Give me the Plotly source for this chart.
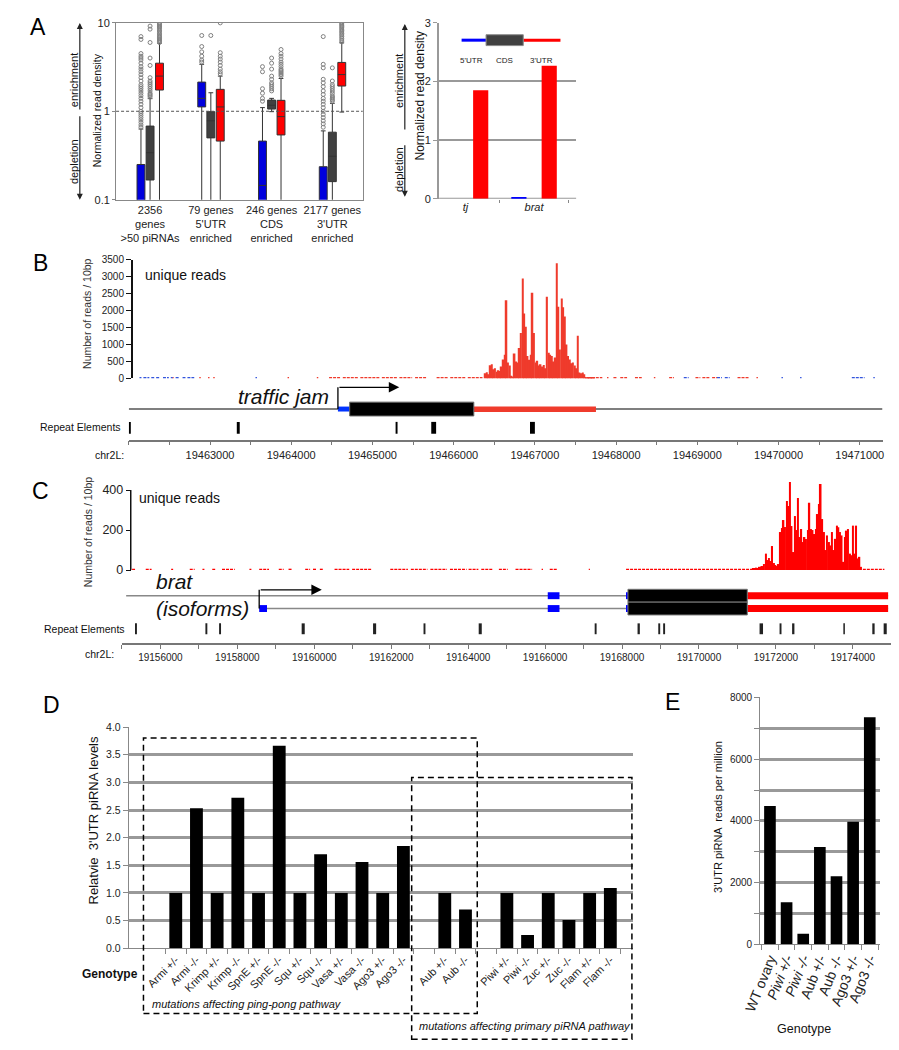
import plotly.graph_objects as go

W, H = 899, 1050
def X(px): return px / W
def Y(py): return 1 - py / H
FONT = "Liberation Sans, Arial, Helvetica, sans-serif"

# ================= DATA =================
# Panel A (left): box statistics (normalized read density, log scale)
a_groups = ["2356<br>genes<br>>50 piRNAs", "79 genes<br>5'UTR<br>enriched",
            "246 genes<br>CDS<br>enriched", "2177 genes<br>3'UTR<br>enriched"]
a_regions = ["5'UTR", "CDS", "3'UTR"]
a_q1 = {"5'UTR": [0.04, 1.12, 0.05, 0.04], "CDS": [0.167, 0.50, 1.06, 0.16], "3'UTR": [1.74, 0.46, 0.54, 1.93]}
a_median = {"5'UTR": [0.07, 1.40, 0.145, 0.07], "CDS": [0.34, 0.78, 1.17, 0.31], "3'UTR": [2.5, 1.12, 0.87, 2.6]}
a_q3 = {"5'UTR": [0.25, 2.14, 0.46, 0.236], "CDS": [0.68, 0.99, 1.34, 0.58], "3'UTR": [3.5, 1.77, 1.33, 3.57]}
a_lower = {"5'UTR": [0.01, 0.01, 0.01, 0.01], "CDS": [0.01, 0.01, 0.99, 0.01], "3'UTR": [0.01, 0.01, 0.01, 0.98]}
a_upper = {"5'UTR": [0.63, 3.4, 1.1, 0.6], "CDS": [1.39, 1.62, 1.4, 1.23], "3'UTR": [5.9, 2.5, 2.35, 5.95]}
a_outliers = {
    "5'UTR": [[7.0, 6.5, 4.5, 4.2, 4.0, 3.8, 3.5, 3.2, 3.0, 2.8, 2.6, 2.4, 2.2, 2.0, 1.9, 1.8, 1.7, 1.6, 1.5, 1.4,
               1.3, 1.2, 1.1, 1.0, 0.95, 0.9, 0.85, 0.8, 0.75, 0.7, 0.66],
              [7.2, 5.4, 4.7, 4.2, 3.8, 3.6],
              [3.2, 2.8, 1.8, 1.6, 1.4, 1.3],
              [7.0, 3.4, 3.1, 2.3, 2.1, 1.9, 1.7, 1.55, 1.4, 1.3, 1.2, 1.1, 1.0, 0.92, 0.85, 0.78, 0.72, 0.66]],
    "CDS": [[9.2, 8.5, 6.0, 4.0, 3.3, 2.4, 2.2, 2.1, 2.0, 1.9, 1.8, 1.7, 1.6, 1.55, 1.5, 1.45],
            [7.2],
            [4.0, 3.5, 3.0, 2.5, 2.3, 2.1, 2.0, 1.9, 1.8, 1.7],
            [3.1, 2.2, 2.0, 1.9, 1.8, 1.7, 1.6, 1.5, 1.45, 1.4, 1.35, 1.3]],
    "3'UTR": [[10.0, 9.8, 9.5, 9.2, 9.0, 8.7, 8.4, 8.1, 7.8, 7.5, 7.2, 7.0, 6.8, 6.6, 6.4, 6.2, 6.0],
              [10.0, 4.6, 4.2, 3.9, 3.6, 3.3, 3.0, 2.8, 2.65],
              [5.0, 4.5, 4.2, 3.9, 3.6, 3.4, 3.2, 3.0, 2.9, 2.8, 2.7, 2.6, 2.5],
              [10.0, 9.7, 9.4, 9.1, 8.8, 8.5, 8.2, 7.9, 7.6, 7.3, 7.0, 6.7, 6.4, 6.1]],
}

# Panel A (right): bar values
ar_genes = ["tj", "brat"]
ar_5utr = [0.0, 0.02]
ar_cds = [0.0, 0.0]
ar_3utr = [1.85, 2.27]

# Panel B: traffic jam locus (chr2L)
b_sig_start, b_sig_step = 19466390, 20
b_sig_vals = [150, 180, 120, 390, 420, 270, 300, 200, 240, 220, 350, 560, 700, 2310, 470, 380, 80, 60,
              740, 500, 470, 900, 1340, 2950, 1920, 1530, 660, 550, 700, 2530, 1340, 470, 520, 380, 420,
              350, 400, 300, 2410, 760, 700, 660, 500, 620, 3400, 2120, 855, 2360, 2100, 1830, 1000, 660,
              560, 450, 470, 380, 300, 1260, 175, 150, 175, 125, 40, 30, 30, 30, 30, 30]
b_noise_red = [(19462535, 19462553), (19462868, 19462886), (19462976, 19462994), (19463040, 19463058),
               (19463955, 19463973), (19464315, 19464333), (19464466, 19464610), (19464635, 19464827),
               (19464851, 19465092), (19465116, 19465308), (19465332, 19465489), (19465525, 19465669),
               (19465790, 19465934), (19465958, 19466150), (19466174, 19466355), (19467750, 19467830),
               (19467888, 19467906), (19467967, 19468015), (19468051, 19468135), (19468232, 19468316),
               (19468465, 19468483), (19468653, 19468713), (19468977, 19469037), (19469062, 19469158),
               (19469182, 19469242), (19469495, 19469639), (19469728, 19469746)]
b_noise_blue = [(19462132, 19462156), (19462180, 19462253), (19462277, 19462313), (19462337, 19462385),
                (19462421, 19462493), (19462517, 19462541), (19462577, 19462614), (19462662, 19462698),
                (19462722, 19462806), (19463560, 19463578), (19468833, 19468893), (19469242, 19469302),
                (19469338, 19469398), (19470036, 19470054), (19470265, 19470283), (19470902, 19471059),
                (19471167, 19471185)]
b_gene_5utr = (19464575, 19464720)
b_gene_cds = (19464720, 19466248)
b_gene_3utr = (19466248, 19467752)
b_tss, b_arrow_end = 19464575, 19465330
b_repeats = [(19462000, 19462025), (19463330, 19463366), (19465285, 19465309), (19465724, 19465784),
             (19466940, 19467000)]
b_range = (19462000, 19471280)

# Panel C: brat locus (chr2L)
c_sig_start, c_sig_step = 19171400, 42
c_sig_vals = [10, 10, 12, 10, 16, 18, 20, 30, 82, 50, 60, 45, 120, 35, 25, 20, 30, 190, 210, 250, 215, 345,
              320, 440, 220, 90, 270, 200, 360, 165, 205, 140, 165, 155, 200, 337, 205, 200, 180, 205, 280,
              330, 430, 255, 190, 100, 173, 140, 123, 190, 100, 156, 222, 214, 190, 173, 41, 165, 197, 205,
              82, 74, 222, 82, 222, 58, 66, 16]
c_noise = [(19155263, 19155364), (19155619, 19155771), (19156280, 19156331), (19156763, 19156890),
           (19157093, 19157144), (19157348, 19157424), (19157602, 19157933), (19158314, 19158365),
           (19158568, 19158823), (19159077, 19159204), (19159331, 19159433), (19159764, 19159891),
           (19159967, 19160069), (19160145, 19160221), (19160527, 19160908), (19160984, 19161493),
           (19161976, 19162434), (19162510, 19162942), (19163018, 19163451), (19163527, 19163960),
           (19164011, 19164265), (19164341, 19164647), (19164799, 19165028), (19165231, 19165663),
           (19165910, 19165945), (19166121, 19166325), (19167135, 19167165), (19168105, 19171411),
           (19174260, 19174820)]
c_iso1_start, c_iso2_start, c_gene_end = 19155110, 19158568, 19174917
c_iso1_5utr = [(19166069, 19166374), (19168103, 19168154)]
c_iso2_5utr = [(19158568, 19158771), (19166069, 19166374), (19168103, 19168154)]
c_cds = (19168154, 19171256)
c_3utr = (19171256, 19174917)
c_tss, c_arrow_end = 19158568, 19160195
c_repeats = [(19155340, 19155390), (19157170, 19157220), (19157526, 19157576), (19159672, 19159752),
             (19161528, 19161608), (19162840, 19162890), (19164274, 19164354), (19167289, 19167339),
             (19168403, 19168463), (19168942, 19168992), (19169069, 19169119), (19171575, 19171665),
             (19172095, 19172145), (19172421, 19172481), (19173753, 19173793), (19174506, 19174566),
             (19174801, 19174881)]
c_range = (19155000, 19175000)

# Panel D
d_pingpong = ["Armi +/-", "Armi -/-", "Krimp +/-", "Krimp -/-", "SpnE +/-", "SpnE -/-",
              "Squ +/-", "Squ -/-", "Vasa +/-", "Vasa -/-", "Ago3 +/-", "Ago3 -/-"]
d_pingpong_vals = [1.0, 2.53, 1.0, 2.72, 1.0, 3.66, 1.0, 1.70, 1.0, 1.56, 1.0, 1.85]
d_aub = ["Aub +/-", "Aub -/-"]
d_aub_vals = [1.0, 0.70]
d_primary = ["Piwi +/-", "Piwi -/-", "Zuc +/-", "Zuc -/-", "Flam +/-", "Flam -/-"]
d_primary_vals = [1.0, 0.24, 1.0, 0.51, 1.0, 1.09]

# Panel E
e_labels = ["WT ovary", "Piwi +/-", "Piwi -/-", "Aub +/-", "Aub -/-", "Ago3 +/-", "Ago3 -/-"]
e_vals = [4480, 1365, 340, 3150, 2210, 3970, 7360]

# ================= FIGURE =================
fig = go.Figure()
shapes, annos = [], []

# ---- A left: boxes ----
a_colors = {"5'UTR": "#0000dd", "CDS": "#404040", "3'UTR": "#ff0000"}
a_offsets = {"5'UTR": -0.15, "CDS": 0.0, "3'UTR": 0.155}
for r in a_regions:
    xs = [i + a_offsets[r] for i in range(len(a_groups))]
    ox, oy = [], []
    for i in range(len(a_groups)):
        for v in a_outliers[r][i]:
            ox.append(xs[i]); oy.append(v)
    fig.add_trace(go.Scatter(x=ox, y=oy, mode="markers", xaxis="x", yaxis="y",
                             marker=dict(symbol="circle-open", size=4, color="#808080", line=dict(width=1)),
                             showlegend=False, hoverinfo="skip"))
    fig.add_trace(go.Box(x=xs, q1=a_q1[r], median=a_median[r], q3=a_q3[r],
                         lowerfence=a_lower[r], upperfence=a_upper[r], width=0.13,
                         fillcolor=a_colors[r], line=dict(color="#333333", width=1),
                         whiskerwidth=0.6, boxpoints=False, xaxis="x", yaxis="y",
                         showlegend=False, hoverinfo="skip"))
shapes.append(dict(type="line", xref="x domain", yref="y", x0=0, x1=1, y0=1, y1=1,
                   line=dict(color="#555", width=1, dash="3px,2px")))

# ---- A right: bars ----
for vals, col in zip([ar_5utr, ar_cds, ar_3utr], ["#0000ff", "#404040", "#ff0000"]):
    fig.add_trace(go.Bar(x=ar_genes, y=vals, marker=dict(color=col, line=dict(width=0)),
                         xaxis="x2", yaxis="y2", showlegend=False, hoverinfo="skip"))
shapes.append(dict(type="line", xref="x2 domain", yref="y2", x0=0, x1=1, y0=0, y1=0,
                   line=dict(color="#999", width=2), layer="below"))
# inset legend
shapes += [
    dict(type="line", xref="paper", yref="paper", x0=X(445), x1=X(470), y0=Y(26.5), y1=Y(26.5),
         line=dict(color="#0000ff", width=3)),
    dict(type="line", xref="paper", yref="paper", x0=X(508), x1=X(546), y0=Y(26.5), y1=Y(26.5),
         line=dict(color="#ff0000", width=3)),
    dict(type="rect", xref="paper", yref="paper", x0=X(470), x1=X(508), y0=Y(32), y1=Y(21),
         fillcolor="#404040", line=dict(color="#888", width=1)),
]
for t, px in zip(["5'UTR", "CDS", "3'UTR"], [455, 489, 527]):
    annos.append(dict(text=t, x=X(px), y=Y(40), xref="paper", yref="paper", showarrow=False,
                      font=dict(size=8, color="#222")))

# ---- B ----
fig.add_trace(go.Bar(x=[b_sig_start + i * b_sig_step for i in range(len(b_sig_vals))], y=b_sig_vals,
                     width=b_sig_step, marker=dict(color="#ef3b2c", line=dict(width=0)),
                     xaxis="x3", yaxis="y3", showlegend=False, hoverinfo="skip"))
def seg_xy(segs, v):
    xs, ys = [], []
    for s, e in segs:
        xs += [s, e, None]; ys += [v, v, None]
    return xs, ys
bx, by = seg_xy(b_noise_red, 20)
fig.add_trace(go.Scatter(x=bx, y=by, mode="lines", line=dict(color="#ef3b2c", width=1.5, dash="3px,1px"),
                         xaxis="x3", yaxis="y3", showlegend=False, hoverinfo="skip"))
bx, by = seg_xy(b_noise_blue, 20)
fig.add_trace(go.Scatter(x=bx, y=by, mode="lines", line=dict(color="#3355dd", width=1.5, dash="3px,1px"),
                         xaxis="x3", yaxis="y3", showlegend=False, hoverinfo="skip"))
# gene model B
shapes.append(dict(type="line", xref="x3", yref="paper", x0=b_range[0], x1=b_range[1], y0=Y(400), y1=Y(400),
                   line=dict(color="#555", width=1.5)))
shapes.append(dict(type="rect", xref="x3", yref="paper", x0=b_gene_5utr[0], x1=b_gene_5utr[1],
                   y0=Y(402.5), y1=Y(397.5), fillcolor="#0033ff", line=dict(width=0)))
shapes.append(dict(type="rect", xref="x3", yref="paper", x0=b_gene_3utr[0], x1=b_gene_3utr[1],
                   y0=Y(403), y1=Y(397.5), fillcolor="#ef3b2c", line=dict(width=0)))
shapes.append(dict(type="rect", xref="x3", yref="paper", x0=b_gene_cds[0], x1=b_gene_cds[1],
                   y0=Y(407), y1=Y(393), fillcolor="#000", line=dict(color="#666", width=1)))
shapes.append(dict(type="line", xref="x3", yref="paper", x0=b_tss, x1=b_tss, y0=Y(400), y1=Y(378),
                   line=dict(color="#000", width=1.3)))
annos.append(dict(text="", x=b_arrow_end, y=Y(378), xref="x3", yref="paper", ax=b_tss, ay=0,
                  axref="x3", ayref="pixel", showarrow=True, arrowhead=2, arrowsize=1.6, arrowwidth=1.3,
                  arrowcolor="#000", standoff=0))
for s, e in b_repeats:
    shapes.append(dict(type="rect", xref="x3", yref="paper", x0=s, x1=e, y0=Y(425), y1=Y(413),
                       fillcolor="#000", line=dict(width=0)))

# ---- C ----
fig.add_trace(go.Bar(x=[c_sig_start + i * c_sig_step for i in range(len(c_sig_vals))], y=c_sig_vals,
                     width=c_sig_step, marker=dict(color="#ff0000", line=dict(width=0)),
                     xaxis="x4", yaxis="y4", showlegend=False, hoverinfo="skip"))
cx, cy = seg_xy(c_noise, 3)
fig.add_trace(go.Scatter(x=cx, y=cy, mode="lines", line=dict(color="#ff0000", width=1.5, dash="3px,1px"),
                         xaxis="x4", yaxis="y4", showlegend=False, hoverinfo="skip"))
shapes.append(dict(type="line", xref="paper", yref="y4", x0=X(107), x1=X(107), y0=0, y1=400,
                   line=dict(color="#111", width=1.5)))
for ystart, yc, utr5 in [(c_iso1_start, 589, c_iso1_5utr), (c_iso2_start, 602, c_iso2_5utr)]:
    shapes.append(dict(type="line", xref="x4", yref="paper", x0=ystart, x1=c_gene_end, y0=Y(yc), y1=Y(yc),
                       line=dict(color="#888", width=1.5)))
    for s, e in utr5:
        shapes.append(dict(type="rect", xref="x4", yref="paper", x0=s, x1=e, y0=Y(yc + 3.5), y1=Y(yc - 3.5),
                           fillcolor="#0000ff", line=dict(width=0)))
    shapes.append(dict(type="rect", xref="x4", yref="paper", x0=c_3utr[0], x1=c_3utr[1],
                       y0=Y(yc + 3.5), y1=Y(yc - 3.5), fillcolor="#ff0000", line=dict(width=0)))
    shapes.append(dict(type="rect", xref="x4", yref="paper", x0=c_cds[0], x1=c_cds[1],
                       y0=Y(yc + 6.5), y1=Y(yc - 6.5), fillcolor="#000", line=dict(color="#777", width=1)))
shapes.append(dict(type="line", xref="x4", yref="paper", x0=c_tss, x1=c_tss, y0=Y(602), y1=Y(583),
                   line=dict(color="#000", width=1.3)))
annos.append(dict(text="", x=c_arrow_end, y=Y(583), xref="x4", yref="paper", ax=c_tss, ay=0,
                  axref="x4", ayref="pixel", showarrow=True, arrowhead=2, arrowsize=1.6, arrowwidth=1.3,
                  arrowcolor="#000", standoff=0))
for s, e in c_repeats:
    shapes.append(dict(type="rect", xref="x4", yref="paper", x0=s, x1=e, y0=Y(628), y1=Y(617),
                       fillcolor="#222", line=dict(width=0)))

# ---- D ----
d_categories = d_pingpong + [" "] + d_aub + ["  "] + d_primary
d_values = d_pingpong_vals + [None] + d_aub_vals + [None] + d_primary_vals
fig.add_trace(go.Bar(x=d_categories, y=d_values, width=0.62, marker=dict(color="#000", line=dict(width=0)),
                     xaxis="x5", yaxis="y5", showlegend=False, hoverinfo="skip"))
shapes.append(dict(type="rect", xref="paper", yref="paper", x0=X(120), x1=X(461), y0=Y(1012), y1=Y(733),
                   line=dict(color="#000", width=1.5, dash="6px,4px")))
shapes.append(dict(type="rect", xref="paper", yref="paper", x0=X(394), x1=X(619), y0=Y(1038), y1=Y(773),
                   line=dict(color="#000", width=1.5, dash="6px,4px")))

# ---- E ----
fig.add_trace(go.Bar(x=e_labels, y=e_vals, width=0.7, marker=dict(color="#000", line=dict(width=0)),
                     xaxis="x6", yaxis="y6", showlegend=False, hoverinfo="skip"))
e_ticktext = [f"<i>{l}</i>" if l.startswith("Piwi") else l for l in e_labels]

# ---- text annotations ----
def txt(t, x, y, size, angle=0, xanchor="center", color="#111", style="normal", weight="normal"):
    annos.append(dict(text=t, x=X(x), y=Y(y), xref="paper", yref="paper", showarrow=False,
                      textangle=angle, xanchor=xanchor, yanchor="middle",
                      font=dict(size=size, color=color, family=FONT, style=style, weight=weight)))

for L, x, y in [("A", 12, 13), ("B", 15, 252), ("C", 15, 483), ("D", 26, 700), ("E", 660, 697)]:
    txt(L, x, y, 23, color="#000")

# enrichment / depletion arrows
for lx, tx, e_top, e_bot, d_top, d_bot, e_c, d_c in [(55, 49, 9, 97, 103, 188, 67, 149),
                                                       (387, 381, 10, 117, 132, 185, 68, 157)]:
    annos.append(dict(text="", x=X(lx), y=Y(e_top), xref="paper", yref="paper", ax=0, ay=e_bot - e_top,
                      showarrow=True, arrowhead=2, arrowsize=1, arrowwidth=1.2, arrowcolor="#222"))
    annos.append(dict(text="", x=X(lx), y=Y(d_bot), xref="paper", yref="paper", ax=0, ay=d_top - d_bot,
                      showarrow=True, arrowhead=2, arrowsize=1, arrowwidth=1.2, arrowcolor="#222"))
    txt("enrichment", tx, e_c, 11, angle=-90)
    txt("depletion", tx, d_c, 11, angle=-90)

txt("Normalized read density", 72, 97, 10.5, angle=-90)
txt("Normalized read density", 402, 83, 12, angle=-90)

txt("Number of reads / 10bp", 63, 304, 10.5, angle=-90, color="#333")
txt("unique reads", 163, 264, 14)
txt("<i>traffic jam</i>", 263, 387, 21)
txt("Repeat Elements", 99, 418, 10.5, xanchor="right")
txt("chr2L:", 102, 447, 10.5, xanchor="right")

txt("Number of reads / 10bp", 63, 525, 10.5, angle=-90, color="#333")
txt("unique reads", 157, 490, 14)
txt("<i>brat</i>", 152, 575, 21)
txt("<i>(isoforms)</i>", 180, 602, 21)
txt("Repeat Elements", 103, 623, 10.5, xanchor="right")
txt("chr2L:", 92, 648, 10.5, xanchor="right")

txt("Relatvie  3'UTR piRNA levels", 69, 817, 13, angle=-90)
txt("<b>Genotype</b>", 86, 972, 12)
txt("<i>mutations affecting ping-pong pathway</i>", 127, 1002, 11, xanchor="left")
txt("<i>mutations affecting primary piRNA pathway</i>", 399, 1025, 11, xanchor="left")

txt("3'UTR piRNA  reads per million", 707, 813, 11, angle=-90)
txt("Genotype", 795, 1028, 12.5)

# ================= LAYOUT =================
b_tick_vals = list(range(19462000, 19471001, 500))
b_tick_text = [str(v) if (v % 1000 == 0 and v != b_tick_vals[0]) else "" for v in b_tick_vals]
c_tick_vals = list(range(19155000, 19175001, 1000))
c_tick_text = [str(v) if v % 2000 == 0 else "" for v in c_tick_vals]

tf = lambda s, c="#222": dict(size=s, color=c, family=FONT)

fig.update_layout(
    width=W, height=H, margin=dict(l=0, r=0, t=0, b=0),
    paper_bgcolor="white", plot_bgcolor="rgba(0,0,0,0)", showlegend=False,
    font=dict(family=FONT, color="#222"),
    barmode="group", bargap=0.336, bargroupgap=0, boxmode="overlay",
    # A left
    xaxis=dict(domain=[X(92), X(344)], anchor="y", range=[-0.56, 3.5], tickvals=[0, 1, 2, 3],
               ticktext=a_groups, showline=True, mirror=True, linecolor="#888", linewidth=1,
               ticks="", showgrid=False, zeroline=False, tickfont=tf(11)),
    yaxis=dict(domain=[Y(188), Y(9)], anchor="x", type="log", range=[-1, 1],
               tickvals=[0.1, 1, 10], ticktext=["0.1", "1", "10"], showline=True, mirror=True,
               linecolor="#888", linewidth=1, ticks="outside", ticklen=3, tickcolor="#888",
               showgrid=False, zeroline=False, tickfont=tf(11)),
    # A right
    xaxis2=dict(domain=[X(422), X(562)], anchor="y2", type="category", range=[-0.386, 1.614],
                tickson="boundaries", ticks="outside", ticklen=3, tickcolor="#888",
                showline=False, showgrid=False, zeroline=False,
                tickfont=dict(size=11, color="#222", family=FONT, style="italic")),
    yaxis2=dict(domain=[Y(187), Y(9)], anchor="x2", range=[0, 3], tickvals=[0, 1, 2, 3],
                showgrid=True, gridcolor="#999", gridwidth=2, showline=True, linecolor="#999",
                linewidth=2, ticks="outside", ticklen=4, tickcolor="#999",
                zeroline=False, tickfont=tf(11)),
    # B
    xaxis3=dict(domain=[X(105), X(875)], anchor="free", position=Y(432), range=list(b_range),
                tickvals=b_tick_vals, ticktext=b_tick_text, ticks="outside", ticklen=4, tickcolor="#777",
                showline=True, linecolor="#777", linewidth=1.5, showgrid=False, zeroline=False,
                tickfont=tf(11)),
    yaxis3=dict(domain=[Y(369), Y(249)], anchor="free", position=X(108), range=[0, 3500],
                tickvals=list(range(0, 3501, 500)), ticktext=[str(v) for v in range(0, 3501, 500)],
                ticks="outside", ticklen=5, tickcolor="#111", showline=True, linecolor="#111",
                linewidth=1.5, showgrid=False, zeroline=False, tickfont=tf(10)),
    # C
    xaxis4=dict(domain=[X(98), X(884)], anchor="free", position=Y(638), range=list(c_range),
                tickvals=c_tick_vals, ticktext=c_tick_text, ticks="outside", ticklen=4, tickcolor="#777",
                showline=True, linecolor="#777", linewidth=1.5, showgrid=False, zeroline=False,
                tickfont=tf(10)),
    yaxis4=dict(domain=[Y(563), Y(472.9)], anchor="free", position=X(107), range=[0, 445],
                tickvals=[0, 200, 400], ticktext=["0", "200", "400"], ticks="outside", ticklen=5,
                tickcolor="#111", showline=False, showgrid=False, zeroline=False, tickfont=tf(12.5)),
    # D
    xaxis5=dict(domain=[X(105), X(620)], anchor="y5", type="category", categoryorder="array",
                categoryarray=d_categories, range=[-2.27, 22.09], tickson="boundaries", ticks="outside",
                ticklen=5, tickcolor="#888", tickangle=-45, showline=True, linecolor="#888", linewidth=1,
                showgrid=False, zeroline=False, tickfont=tf(11)),
    yaxis5=dict(domain=[Y(946), Y(722)], anchor="x5", range=[0, 4], dtick=0.5, tickformat=".1f",
                showgrid=True, gridcolor="#999", gridwidth=2.5, showline=True, linecolor="#888",
                ticks="outside", ticklen=5, tickcolor="#888", zeroline=False, tickfont=tf(10.5)),
    # E
    xaxis6=dict(domain=[X(750), X(872)], anchor="y6", type="category", categoryorder="array",
                categoryarray=e_labels, tickvals=e_labels, ticktext=e_ticktext, range=[-0.59, 6.59],
                tickson="boundaries", ticks="outside", ticklen=5, tickcolor="#888", tickangle=-68,
                showline=True, linecolor="#888", linewidth=1, showgrid=False, zeroline=False,
                tickfont=tf(14)),
    yaxis6=dict(domain=[Y(942), Y(692)], anchor="x6", range=[0, 8000],
                tickvals=[0, 2000, 4000, 6000, 8000], ticktext=["0", "2000", "4000", "6000", "8000"],
                showgrid=True, gridcolor="#999", gridwidth=2.5, showline=True, linecolor="#888",
                ticks="outside", ticklen=5, tickcolor="#888", zeroline=False, tickfont=tf(10),
                minor=dict(dtick=1000, showgrid=True, gridcolor="#999", gridwidth=2.5,
                           ticks="outside", ticklen=5, tickcolor="#888")),
    shapes=shapes, annotations=annos,
)

fig.write_html("out.html")
